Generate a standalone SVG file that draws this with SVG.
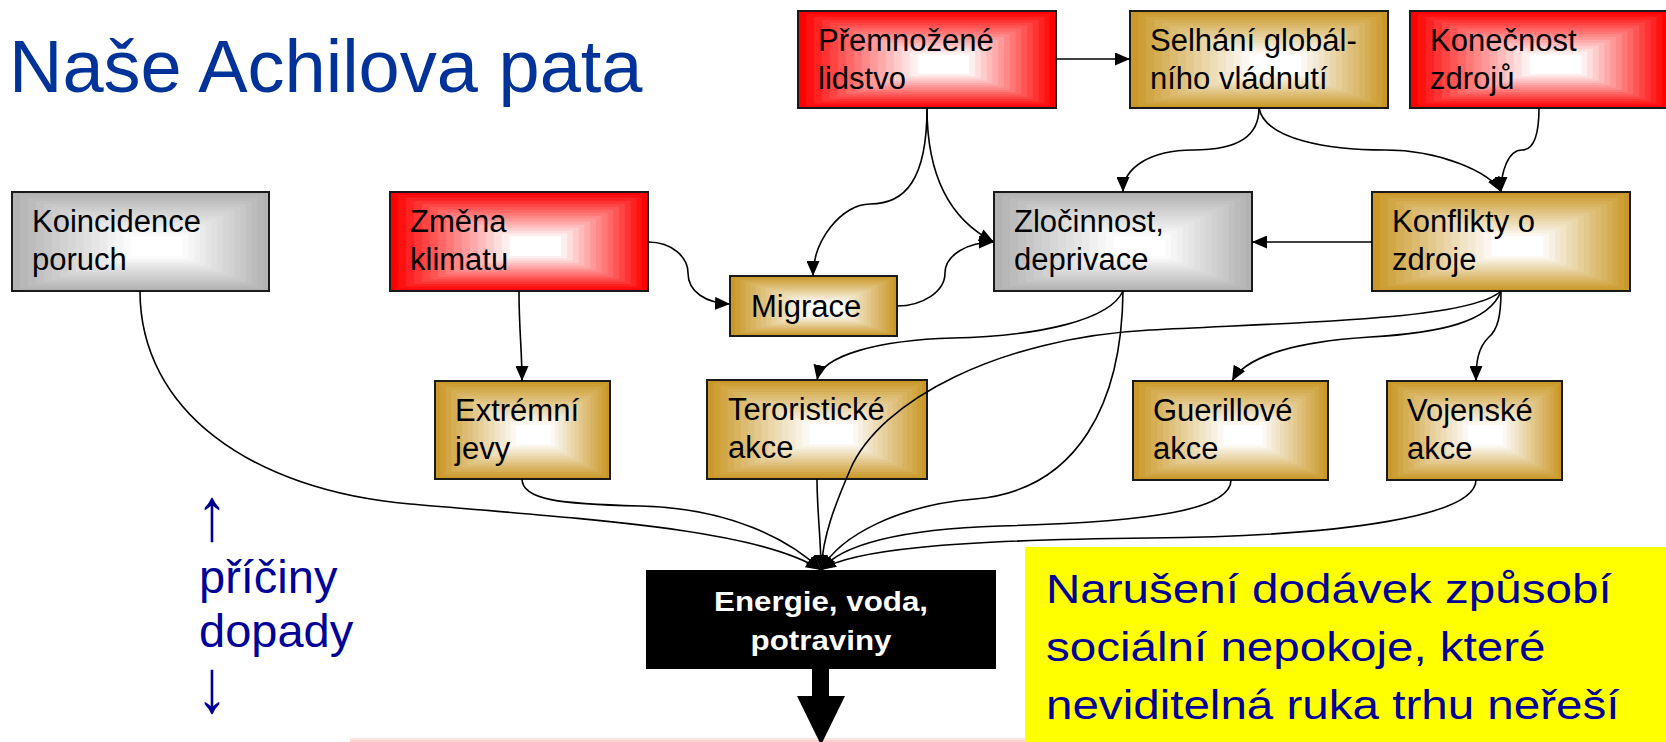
<svg xmlns="http://www.w3.org/2000/svg" width="1666" height="742" viewBox="0 0 1666 742">
<style>
.t{font-family:"Liberation Sans",Arial,sans-serif;font-size:31px;fill:#000}
.bd{fill:none;stroke:#1a1a1a;stroke-width:2}
.c{fill:none;stroke:#000;stroke-width:1.6;marker-end:url(#ah)}
.blue{font-family:"Liberation Sans",Arial,sans-serif;fill:#000099}
.en{font-family:"Liberation Sans",Arial,sans-serif;font-size:27px;font-weight:bold;fill:#fff}
</style>
<defs>
<marker id="ah" viewBox="0 0 15 13" refX="15" refY="6.5" markerWidth="15" markerHeight="13" markerUnits="userSpaceOnUse" orient="auto">
<path d="M0,0 L15,6.5 L0,13 z" fill="#000"/>
</marker>
<g id="bandR">
<rect x="0" y="0" width="1" height="1" fill="#FF0000"/>
<rect x=".0309" y=".0299" width=".9467" height=".9467" fill="#FF1111"/>
<rect x=".0619" y=".0597" width=".8933" height=".8933" fill="#FF2222"/>
<rect x=".0928" y=".0896" width=".84" height=".84" fill="#FF3333"/>
<rect x=".1237" y=".1195" width=".7867" height=".7867" fill="#FF4444"/>
<rect x=".1547" y=".1493" width=".7333" height=".7333" fill="#FF5555"/>
<rect x=".1856" y=".1792" width=".68" height=".68" fill="#FF6666"/>
<rect x=".2165" y=".2091" width=".6267" height=".6267" fill="#FF7777"/>
<rect x=".2475" y=".2389" width=".5733" height=".5733" fill="#FF8888"/>
<rect x=".2784" y=".2688" width=".52" height=".52" fill="#FF9999"/>
<rect x=".3093" y=".2987" width=".4667" height=".4667" fill="#FFAAAA"/>
<rect x=".3403" y=".3285" width=".4133" height=".4133" fill="#FFBBBB"/>
<rect x=".3712" y=".3584" width=".36" height=".36" fill="#FFCCCC"/>
<rect x=".4021" y=".3883" width=".3067" height=".3067" fill="#FFDDDD"/>
<rect x=".4331" y=".4181" width=".2533" height=".2533" fill="#FFEEEE"/>
<rect x=".464" y=".448" width=".2" height=".2" fill="#FFFFFF"/>
</g>
<g id="bandG">
<rect x="0" y="0" width="1" height="1" fill="#CA9828"/>
<rect x=".0309" y=".0299" width=".9467" height=".9467" fill="#CE9F36"/>
<rect x=".0619" y=".0597" width=".8933" height=".8933" fill="#D1A645"/>
<rect x=".0928" y=".0896" width=".84" height=".84" fill="#D5AD53"/>
<rect x=".1237" y=".1195" width=".7867" height=".7867" fill="#D8B461"/>
<rect x=".1547" y=".1493" width=".7333" height=".7333" fill="#DCBA70"/>
<rect x=".1856" y=".1792" width=".68" height=".68" fill="#DFC17E"/>
<rect x=".2165" y=".2091" width=".6267" height=".6267" fill="#E3C88C"/>
<rect x=".2475" y=".2389" width=".5733" height=".5733" fill="#E6CF9B"/>
<rect x=".2784" y=".2688" width=".52" height=".52" fill="#EAD6A9"/>
<rect x=".3093" y=".2987" width=".4667" height=".4667" fill="#EDDDB7"/>
<rect x=".3403" y=".3285" width=".4133" height=".4133" fill="#F1E4C6"/>
<rect x=".3712" y=".3584" width=".36" height=".36" fill="#F4EAD4"/>
<rect x=".4021" y=".3883" width=".3067" height=".3067" fill="#F8F1E2"/>
<rect x=".4331" y=".4181" width=".2533" height=".2533" fill="#FCF8F1"/>
<rect x=".464" y=".448" width=".2" height=".2" fill="#FFFFFF"/>
</g>
<g id="bandS">
<rect x="0" y="0" width="1" height="1" fill="#B2B2B2"/>
<rect x=".0309" y=".0299" width=".9467" height=".9467" fill="#B7B7B7"/>
<rect x=".0619" y=".0597" width=".8933" height=".8933" fill="#BCBCBC"/>
<rect x=".0928" y=".0896" width=".84" height=".84" fill="#C1C1C1"/>
<rect x=".1237" y=".1195" width=".7867" height=".7867" fill="#C7C7C7"/>
<rect x=".1547" y=".1493" width=".7333" height=".7333" fill="#CCCCCC"/>
<rect x=".1856" y=".1792" width=".68" height=".68" fill="#D1D1D1"/>
<rect x=".2165" y=".2091" width=".6267" height=".6267" fill="#D6D6D6"/>
<rect x=".2475" y=".2389" width=".5733" height=".5733" fill="#DBDBDB"/>
<rect x=".2784" y=".2688" width=".52" height=".52" fill="#E0E0E0"/>
<rect x=".3093" y=".2987" width=".4667" height=".4667" fill="#E5E5E5"/>
<rect x=".3403" y=".3285" width=".4133" height=".4133" fill="#EAEAEA"/>
<rect x=".3712" y=".3584" width=".36" height=".36" fill="#F0F0F0"/>
<rect x=".4021" y=".3883" width=".3067" height=".3067" fill="#F5F5F5"/>
<rect x=".4331" y=".4181" width=".2533" height=".2533" fill="#FAFAFA"/>
<rect x=".464" y=".448" width=".2" height=".2" fill="#FFFFFF"/>
</g>
</defs>

<rect x="0" y="0" width="1666" height="742" fill="#fff"/>

<text x="9" y="92" font-family="Liberation Sans, Arial, sans-serif" font-size="74" fill="#003399">Naše Achilova pata</text>

<rect x="350" y="738" width="680" height="2" fill="#FFE6E6"/>
<rect x="350" y="740" width="680" height="2" fill="#FFD2D2"/>

<g id="n-premnozene">
<use href="#bandR" transform="translate(798 11) scale(258 97)"/>
<rect class="bd" x="798" y="11" width="258" height="97"/>
<text class="t" x="818" y="51">Přemnožené</text>
<text class="t" x="818" y="89">lidstvo</text>
</g>
<g id="n-selhani">
<use href="#bandG" transform="translate(1130 11) scale(258 97)"/>
<rect class="bd" x="1130" y="11" width="258" height="97"/>
<text class="t" x="1150" y="51">Selhání globál-</text>
<text class="t" x="1150" y="89">ního vládnutí</text>
</g>
<g id="n-konecnost">
<use href="#bandR" transform="translate(1410 11) scale(258 97)"/>
<rect class="bd" x="1410" y="11" width="258" height="97"/>
<text class="t" x="1430" y="51">Konečnost</text>
<text class="t" x="1430" y="89">zdrojů</text>
</g>
<g id="n-koincidence">
<use href="#bandS" transform="translate(12 192) scale(257 99)"/>
<rect class="bd" x="12" y="192" width="257" height="99"/>
<text class="t" x="32" y="232">Koincidence</text>
<text class="t" x="32" y="270">poruch</text>
</g>
<g id="n-zmena">
<use href="#bandR" transform="translate(390 192) scale(258 99)"/>
<rect class="bd" x="390" y="192" width="258" height="99"/>
<text class="t" x="410" y="232">Změna</text>
<text class="t" x="410" y="270">klimatu</text>
</g>
<g id="n-zlocinnost">
<use href="#bandS" transform="translate(994 192) scale(258 99)"/>
<rect class="bd" x="994" y="192" width="258" height="99"/>
<text class="t" x="1014" y="232">Zločinnost,</text>
<text class="t" x="1014" y="270">deprivace</text>
</g>
<g id="n-konflikty">
<use href="#bandG" transform="translate(1372 192) scale(258 99)"/>
<rect class="bd" x="1372" y="192" width="258" height="99"/>
<text class="t" x="1392" y="232">Konflikty o</text>
<text class="t" x="1392" y="270">zdroje</text>
</g>
<g id="n-migrace">
<use href="#bandG" transform="translate(730 276) scale(167 60)"/>
<rect class="bd" x="730" y="276" width="167" height="60"/>
<text class="t" x="751" y="317">Migrace</text>
</g>
<g id="n-extremni">
<use href="#bandG" transform="translate(435 381) scale(175 98)"/>
<rect class="bd" x="435" y="381" width="175" height="98"/>
<text class="t" x="455" y="421">Extrémní</text>
<text class="t" x="455" y="459">jevy</text>
</g>
<g id="n-teroristicke">
<use href="#bandG" transform="translate(707 380) scale(220 99)"/>
<rect class="bd" x="707" y="380" width="220" height="99"/>
<text class="t" x="728" y="420">Teroristické</text>
<text class="t" x="728" y="458">akce</text>
</g>
<g id="n-guerillove">
<use href="#bandG" transform="translate(1133 381) scale(195 99)"/>
<rect class="bd" x="1133" y="381" width="195" height="99"/>
<text class="t" x="1153" y="421">Guerillové</text>
<text class="t" x="1153" y="459">akce</text>
</g>
<g id="n-vojenske">
<use href="#bandG" transform="translate(1387 381) scale(175 99)"/>
<rect class="bd" x="1387" y="381" width="175" height="99"/>
<text class="t" x="1407" y="421">Vojenské</text>
<text class="t" x="1407" y="459">akce</text>
</g>
<g id="n-energie">
<rect x="646" y="570" width="350" height="99" fill="#000"/>
<g transform="scale(1.16 1)">
<text class="en" x="707.8" y="611" text-anchor="middle">Energie, voda,</text>
<text class="en" x="707.8" y="650" text-anchor="middle">potraviny</text>
</g>
<rect x="812" y="668" width="17" height="30" fill="#000"/>
<path d="M797,696 L845,696 L821,745 z" fill="#000"/>
</g>

<g id="n-yellow">
<rect x="1025" y="547" width="641" height="195" fill="#FFFF00"/>
<g transform="scale(1.16 1)">
<text class="blue" x="901.7" y="603" font-size="41">Narušení dodávek způsobí</text>
<text class="blue" x="901.7" y="661" font-size="41">sociální nepokoje, které</text>
<text class="blue" x="901.7" y="719" font-size="41">neviditelná ruka trhu neřeší</text>
</g>
</g>

<g id="legend">
<text class="blue" x="255.4" y="540" font-size="75" text-anchor="middle" transform="scale(0.83 1)">↑</text>
<text class="blue" x="199" y="593" font-size="47">příčiny</text>
<text class="blue" x="199" y="647" font-size="47">dopady</text>
<text class="blue" x="255.4" y="712" font-size="75" text-anchor="middle" transform="scale(0.83 1)">↓</text>
</g>

<g id="connectors">
<path class="c" d="M1056,59 L1130,59"/>
<path class="c" d="M927,108 C927,180 905,204 870,204 C842,204 813,240 813,276"/>
<path class="c" d="M927,108 C927,175 950,220 994,242"/>
<path class="c" d="M648,242 C673,242 688,258 688,273 C688,292 706,303 730,304"/>
<path class="c" d="M897,306 C922,306 945,292 945,273 C945,255 968,242 994,242"/>
<path class="c" d="M1259,108 C1259,135 1240,150 1193,150 C1150,150 1123,168 1123,192"/>
<path class="c" d="M1259,108 C1265,140 1330,150 1385,150 C1440,150 1490,172 1501,192"/>
<path class="c" d="M1539,108 C1539,140 1532,150 1522,150 C1508,150 1501,172 1501,192"/>
<path class="c" d="M1372,242 L1252,242"/>
<path class="c" d="M519,291 C519,330 522,350 522,381"/>
<path class="c" d="M1123,291 C1110,320 1040,336 953,338 C880,340 822,355 817,380"/>
<path class="c" d="M1501,291 C1490,322 1440,333 1370,337 C1290,342 1245,358 1232,381"/>
<path class="c" d="M1501,291 C1501,315 1498,330 1488,338 C1478,348 1476,362 1476,381"/>
<path class="c" d="M140,291 C140,410 250,490 410,504 C600,520 760,530 821,570"/>
<path class="c" d="M522,479 C522,500 560,504 640,506 C730,508 790,540 821,570"/>
<path class="c" d="M817,479 C817,510 821,540 821,570"/>
<path class="c" d="M1123,291 C1122,400 1080,490 975,499 C900,505 840,535 821,570"/>
<path class="c" d="M1501,291 C1470,320 1300,322 1150,330 C1000,338 880,400 850,470 C835,505 823,535 821,570"/>
<path class="c" d="M1231,480 C1231,510 1150,522 1000,526 C900,529 840,545 821,570"/>
<path class="c" d="M1476,480 C1476,515 1350,536 1150,538 C950,540 850,550 821,570"/>
</g>
</svg>
